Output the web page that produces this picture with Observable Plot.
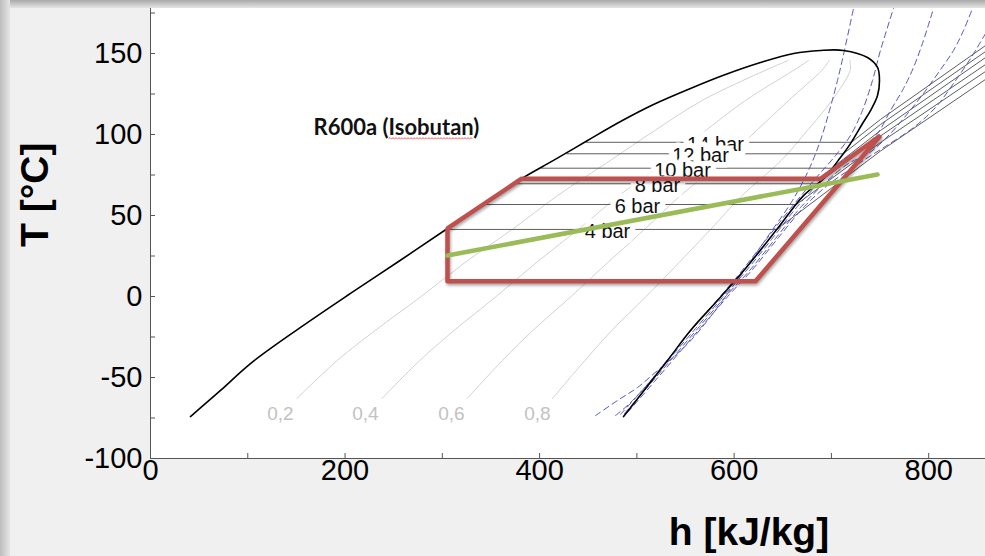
<!DOCTYPE html>
<html>
<head>
<meta charset="utf-8">
<script src="https://cdn.jsdelivr.net/npm/d3@7"></script>
<script src="https://cdn.jsdelivr.net/npm/@observablehq/plot@0.6"></script>
<style>
  html, body { margin: 0; padding: 0; background: #f0f0f0; }
  #wrap { position: relative; width: 985px; height: 556px; overflow: hidden; background: #f0f0f0; }
  #wrap svg { display: block; }
  .shadow-top { position: absolute; left: 0; top: 0; width: 985px; height: 8px; background: linear-gradient(#a9a9a9, #e4e4e4); }
  .shadow-left { position: absolute; left: 0; top: 0; width: 9px; height: 556px; background: linear-gradient(to right, #bdbdbd, #e2e2e2); }
  .edge { position: absolute; left: 9px; top: 0; width: 1px; height: 556px; background: #dfe3ea; }
  .cycle path { filter: drop-shadow(1px 2px 1.5px rgba(0,0,0,0.35)); }
</style>
</head>
<body>
<div id="wrap"></div>
<script>
// ---------- data (h in kJ/kg, T in °C) ----------
const satLiquidH = [41.1, 72.0, 102.8, 154.2, 205.6, 255.0, 305.3, 344.4, 383.5, 414.3, 449.3, 483.2, 517.1, 555.1, 591.1, 627.1, 661.1, 688.9, 712.5];
const satLiquidT = [-74.1, -58.0, -41.4, -19.1, 1.9, 21.6, 42.0, 58.0, 73.5, 84.0, 96.3, 108.0, 118.5, 128.4, 137.0, 144.4, 150.0, 151.9, 151.9];
const satVaporH = [737.1, 747.4, 749.4, 747.4, 740.2, 732.0, 719.6, 709.3, 691.9, 671.3, 644.6, 616.8, 599.3, 582.9, 555.1, 531.5, 508.9, 486.3];
const satVaporT = [147.5, 141.4, 133.3, 124.1, 114.8, 106.8, 94.4, 85.8, 72.8, 62.3, 42.0, 21.0, 8.6, -2.5, -21.0, -39.5, -56.8, -74.1];

// vapour-quality lines
const qualityT = [-63.0, -39.5, -21.0, 0, 21.0, 42.0, 62.3, 84.0, 102.5, 121.0, 139.5, 145.7];
const quality02H = [150.3, 192.0, 230.9, 278.2, 323.4, 373.2, 418.5, 472.8, 518.5, 567.1, 631.6, 655.5];
const quality04H = [237.9, 276.8, 312.0, 355.3, 396.8, 441.0, 481.7, 531.3, 570.8, 611.6, 660.8, 676.6];
const quality06H = [325.5, 361.8, 393.0, 432.4, 470.1, 508.9, 544.9, 589.9, 623.1, 656.0, 690.0, 697.8];
const quality08H = [413.1, 446.6, 474.1, 509.5, 543.5, 576.7, 608.1, 648.4, 675.3, 700.5, 719.2, 719.0];
const qualityLabels = ["0,2", "0,4", "0,6", "0,8"];
const qualityLabelH = [133.6, 221.0, 309.4, 397.8];
const qualityLabelT = [-72.2, -72.2, -72.2, -72.2];

// isobars
const isobarLabels = ["4 bar", "6 bar", "8 bar", "10 bar", "12 bar", "14 bar"];
const isobarTSat = [41.4, 56.8, 69.6, 79.2, 88.1, 95.2];
const isobarHLiq = [304, 343, 374, 402, 428, 448];
const isobarHVap = [643.8, 664.0, 685.5, 700.4, 712.2, 720.5];
const isobarHKnee = [750.5, 750.5, 750.5, 750.5, 750.5, 750.5];
const isobarTKnee = [89.8, 95.1, 99.1, 102.5, 106.2, 109.3];
const isobarHEnd = [858.4, 858.4, 858.4, 858.4, 858.4, 858.4];
const isobarTEnd = [134.0, 138.9, 143.2, 147.5, 151.2, 154.9];
const isobarLabelH = [469.8, 500.6, 521.2, 546.9, 565.4, 580.8];

// blue dashed lines
const dash1H = [457.5, 480.1, 500.6, 521.2, 541.8, 558.2, 572.6, 586.0, 611.7, 637.4, 660.0, 676.4, 688.7, 698.0, 706.2, 713.4, 722.7];
const dash1T = [-73.5, -64.2, -56.2, -45.7, -35.2, -25.3, -14.8, -4.3, 17.3, 39.5, 59.3, 77.8, 96.3, 114.8, 133.3, 151.9, 177.8];
const dash2H = [478.0, 491.4, 508.9, 532.5, 557.2, 583.9, 606.5, 632.2, 657.9, 683.6, 704.2, 719.6, 731.9, 742.2, 750.4, 763.8];
const dash2T = [-73.5, -66.7, -55.6, -38.3, -19.8, -1.2, 14.8, 34.6, 54.3, 72.8, 87.0, 99.4, 114.8, 133.3, 151.9, 177.8];
const dash3H = [483.2, 510.9, 535.6, 560.3, 588.0, 611.7, 638.4, 665.1, 688.8, 711.4, 731.9, 747.4, 760.7, 774.1, 784.4, 794.6, 804.9];
const dash3T = [-72.8, -54.3, -37.0, -19.8, -0.6, 15.4, 35.2, 55.6, 71.0, 84.0, 92.0, 100.6, 114.8, 128.4, 141.4, 158.0, 177.8];
const dash4H = [487.3, 515.0, 539.7, 564.4, 592.1, 615.8, 642.5, 669.2, 693.9, 717.5, 738.1, 760.7, 779.2, 794.6, 810.1, 825.5, 835.8, 845.0];
const dash4T = [-72.2, -53.1, -35.8, -18.5, 0.6, 16.0, 35.8, 55.6, 70.4, 82.1, 88.3, 100.6, 113.6, 125.3, 138.3, 151.9, 164.2, 177.8];
const dash5H = [490.4, 518.1, 542.8, 567.5, 595.2, 618.9, 645.6, 672.3, 697.0, 721.7, 750.4, 784.4, 807.0, 825.5, 843.0, 858.4];
const dash5T = [-71.6, -52.5, -35.2, -17.9, 1.2, 16.7, 36.4, 55.6, 69.1, 79.6, 90.7, 104.3, 116.7, 131.5, 146.9, 162.3];

// refrigeration cycle (red) and green line
const cycleH = [305.3, 305.3, 381.5, 688.8, 750.4, 621.9, 305.3];
const cycleT = [9.4, 42.0, 72.7, 72.7, 99.4, 9.4, 9.4];
const greenH = [305.3, 747.4];
const greenT = [25.3, 75.3];

// annotation and axes
const fluidName = "R600a (Isobutan)";
const fluidH = [167.6];
const fluidT = [104.3];
const xTickLabels = [0, 200, 400, 600, 800];
const xTickMarks = [100, 200, 300, 400, 500, 600, 700, 800];
const yTickLabels = [-100, -50, 0, 50, 100, 150];
const yTickMarks = [-75, -50, -25, 0, 25, 50, 75, 100, 125, 150, 175];
const xTitle = "h [kJ/kg]";
const yTitle = "T [°C]";

// ---------- build tables ----------
const toRows = (H, T, key) => H.map((h, i) => ({h, T: T[i], key}));
const satRows = [...toRows(satLiquidH, satLiquidT, "sat"), ...toRows(satVaporH, satVaporT, "sat")];
const qualityRows = [
  ...toRows(quality02H, qualityT, "q02"),
  ...toRows(quality04H, qualityT, "q04"),
  ...toRows(quality06H, qualityT, "q06"),
  ...toRows(quality08H, qualityT, "q08")
];
const qualityLabelRows = qualityLabels.map((t, i) => ({t, h: qualityLabelH[i], T: qualityLabelT[i]}));
const isobarRows = isobarLabels.flatMap((p, i) => [
  {key: p, h: isobarHLiq[i], T: isobarTSat[i]},
  {key: p, h: isobarHVap[i], T: isobarTSat[i]},
  {key: p, h: isobarHKnee[i], T: isobarTKnee[i]},
  {key: p, h: isobarHEnd[i], T: isobarTEnd[i]}
]);
const isobarLabelRows = isobarLabels.map((p, i) => ({t: p, h: isobarLabelH[i], T: isobarTSat[i]})).reverse();
const dashRows = [
  ...toRows(dash1H, dash1T, "d1"),
  ...toRows(dash2H, dash2T, "d2"),
  ...toRows(dash3H, dash3T, "d3"),
  ...toRows(dash4H, dash4T, "d4"),
  ...toRows(dash5H, dash5T, "d5")
];
const cycleRows = toRows(cycleH, cycleT, "cycle");
const greenRows = toRows(greenH, greenT, "green");
const fluidRows = [{t: fluidName, h: fluidH[0], T: fluidT[0]}];

const chart = Plot.plot({
  width: 985,
  height: 556,
  marginLeft: 150,
  marginRight: 0,
  marginTop: 7,
  marginBottom: 98,
  x: {domain: [0, 858.4], label: null},
  y: {domain: [-100, 178.4], label: null},
  style: {fontFamily: "'Liberation Sans', Arial, sans-serif", background: "transparent", color: "#000", overflow: "visible"},
  marks: [
    Plot.frame({fill: "white", stroke: null}),
    Plot.line(qualityRows, {x: "h", y: "T", z: "key", stroke: "#d2d2d2", strokeWidth: 1, curve: "catmull-rom"}),
    Plot.text(qualityLabelRows, {x: "h", y: "T", text: "t", fill: "#c2c2c2", fontSize: 19}),
    Plot.line(isobarRows, {x: "h", y: "T", z: "key", stroke: "#5e5e5e", strokeWidth: 1}),
    Plot.line(dashRows, {x: "h", y: "T", z: "key", stroke: "#5656c4", strokeWidth: 1, strokeDasharray: "6,4", curve: "catmull-rom"}),
    Plot.line(satRows, {x: "h", y: "T", stroke: "#000", strokeWidth: 1.6, curve: "catmull-rom"}),
    Plot.text(isobarLabelRows, {x: "h", y: "T", text: "t", fontSize: 20, fill: "#111", stroke: "white", strokeWidth: 11, dy: 2}),
    Plot.line(cycleRows, {x: "h", y: "T", stroke: "#c0504d", strokeWidth: 4.5, strokeLinejoin: "miter", className: "cycle"}),
    Plot.line(greenRows, {x: "h", y: "T", stroke: "#9bbb59", strokeWidth: 4.5}),
    Plot.text(fluidRows, {x: "h", y: "T", text: "t", textAnchor: "start", fontSize: 22, fontWeight: "bold", fontFamily: "Lato, 'Open Sans', sans-serif", fill: "#111"}),
    Plot.ruleX([0], {stroke: "#555", strokeWidth: 1}),
    Plot.ruleY([-100], {stroke: "#555", strokeWidth: 1}),
    Plot.ruleY(yTickMarks, {y: d => d, insetRight: 830, stroke: "#555"}),
    Plot.ruleX(xTickMarks, {x: d => d, insetTop: 446, stroke: "#555"}),
    Plot.axisX({ticks: xTickLabels, tickFormat: d => String(d), tickSize: 0, tickPadding: 1, fontSize: 29, label: null}),
    Plot.axisY({ticks: yTickLabels, tickFormat: d => String(d), tickSize: 0, tickPadding: 8, fontSize: 29, label: null}),
    Plot.text([xTitle], {frameAnchor: "bottom", dx: 181, dy: 86, fontSize: 39, fontWeight: "bold"}),
    Plot.text([yTitle], {frameAnchor: "left", dx: -115, dy: 14, rotate: -90, fontSize: 39, fontWeight: "bold"})
  ]
});

const wrap = document.getElementById("wrap");
wrap.appendChild(chart);

// spell-check style wavy underline under "Isobutan"
const ns = "http://www.w3.org/2000/svg";
for (const t of chart.querySelectorAll("text")) {
  if (t.textContent === fluidName) {
    try {
      const p0 = t.getStartPositionOfChar(7);
      const p1 = t.getEndPositionOfChar(14);
      const yb = p0.y + 4;
      let d = `M${p0.x},${yb}`;
      let up = true;
      for (let x = p0.x + 1.5; x <= p1.x; x += 1.5) {
        d += ` L${x.toFixed(2)},${(up ? yb - 1 : yb + 0.6).toFixed(2)}`;
        up = !up;
      }
      const path = document.createElementNS(ns, "path");
      path.setAttribute("d", d);
      path.setAttribute("fill", "none");
      path.setAttribute("stroke", "#ee5555");
      path.setAttribute("stroke-width", "0.9");
      const tr = t.getAttribute("transform");
      if (tr) path.setAttribute("transform", tr);
      t.parentNode.appendChild(path);
    } catch (e) {}
  }
}

for (const cls of ["shadow-top", "shadow-left", "edge"]) {
  const d = document.createElement("div");
  d.className = cls;
  wrap.appendChild(d);
}
</script>
</body>
</html>
